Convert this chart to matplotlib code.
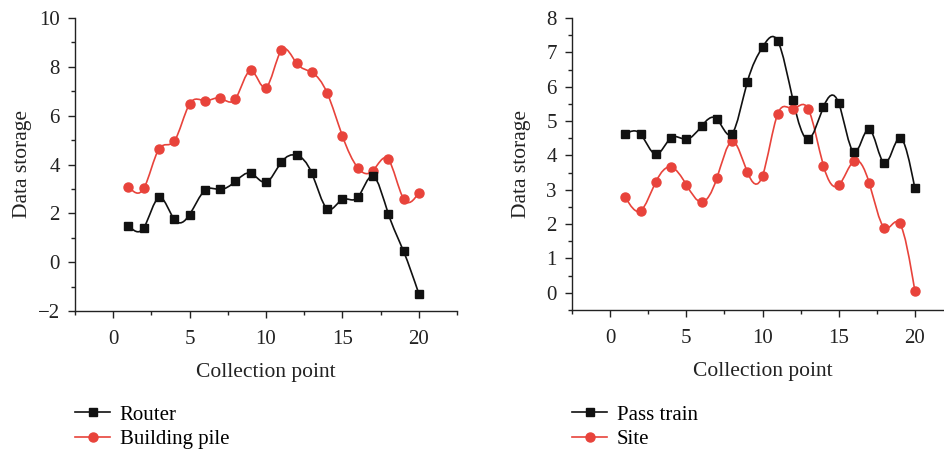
import numpy as np
import matplotlib.pyplot as plt
from matplotlib.path import Path
from matplotlib.patches import PathPatch
from matplotlib.lines import Line2D
from matplotlib.ticker import MultipleLocator

plt.rcParams['font.family'] = ['Liberation Serif', 'DejaVu Serif']

points = np.arange(1, 21)

router = [1.50, 1.41, 2.65, 1.75, 1.95, 2.94, 2.98, 3.31, 3.64, 3.27,
          4.09, 4.38, 3.64, 2.19, 2.57, 2.65, 3.53, 1.99, 0.45, -1.29]
building_pile = [3.09, 3.02, 4.64, 4.96, 6.48, 6.61, 6.72, 6.69, 7.85, 7.15,
                 8.67, 8.15, 7.77, 6.93, 5.17, 3.87, 3.75, 4.21, 2.60, 2.84]

pass_train = [4.62, 4.62, 4.03, 4.51, 4.47, 4.85, 5.06, 4.63, 6.13, 7.15,
              7.33, 5.61, 4.47, 5.41, 5.52, 4.09, 4.77, 3.77, 4.51, 3.04]
site = [2.78, 2.39, 3.23, 3.66, 3.15, 2.64, 3.33, 4.41, 3.52, 3.41,
        5.21, 5.36, 5.35, 3.70, 3.13, 3.84, 3.20, 1.89, 2.02, 0.05]

BLACK = '#111111'
RED = '#e8433b'
TEXT = '#222222'


def spline_path(x, y):
    # natural cubic spline through the points, drawn as cubic Bezier segments
    x = np.asarray(x, float)
    y = np.asarray(y, float)
    n = len(x)
    h = np.diff(x)
    A = np.zeros((n, n))
    r = np.zeros(n)
    A[0, 0] = A[-1, -1] = 1
    for i in range(1, n - 1):
        A[i, i - 1] = h[i - 1]
        A[i, i] = 2 * (h[i - 1] + h[i])
        A[i, i + 1] = h[i]
        r[i] = 6 * ((y[i + 1] - y[i]) / h[i] - (y[i] - y[i - 1]) / h[i - 1])
    M = np.linalg.solve(A, r)
    m = np.zeros(n)
    for i in range(n - 1):
        m[i] = (y[i + 1] - y[i]) / h[i] - h[i] * (2 * M[i] + M[i + 1]) / 6
    m[-1] = (y[-1] - y[-2]) / h[-1] + h[-1] * (M[-2] + 2 * M[-1]) / 6
    verts = [(x[0], y[0])]
    codes = [Path.MOVETO]
    for i in range(n - 1):
        d = h[i] / 3
        verts += [(x[i] + d, y[i] + m[i] * d),
                  (x[i + 1] - d, y[i + 1] - m[i + 1] * d),
                  (x[i + 1], y[i + 1])]
        codes += [Path.CURVE4] * 3
    return Path(verts, codes)


def draw(ax, y, color, marker, ms):
    ax.add_patch(PathPatch(spline_path(points, y), fill=False,
                           edgecolor=color, lw=1.2, zorder=2))
    ax.plot(points, y, ls='none', marker=marker, ms=ms, color=color, zorder=3)


def style(ax, ylim, major, minor, ypad):
    ax.set_xlim(-2.5, 22.5)
    ax.set_ylim(*ylim)
    ax.xaxis.set_major_locator(MultipleLocator(5))
    ax.xaxis.set_minor_locator(MultipleLocator(2.5))
    ax.yaxis.set_major_locator(MultipleLocator(major))
    ax.yaxis.set_minor_locator(MultipleLocator(minor))
    for s in ['top', 'right']:
        ax.spines[s].set_visible(False)
    for s in ['left', 'bottom']:
        ax.spines[s].set_linewidth(1.0)
        ax.spines[s].set_color(TEXT)
    ax.tick_params(which='both', direction='out', colors=TEXT, width=1.0,
                   labelsize=15, labelcolor=TEXT)
    ax.tick_params(which='major', length=5)
    ax.tick_params(which='minor', length=3)
    ax.tick_params(axis='x', pad=9)
    ax.tick_params(axis='y', pad=6)
    ax.set_xlabel('Collection point', fontsize=15.5, color=TEXT, labelpad=10)
    ax.set_ylabel('Data storage', fontsize=15.5, color=TEXT, labelpad=ypad)


fig = plt.figure(figsize=(9.45, 4.49), dpi=100)
ax1 = fig.add_axes([75 / 945, 1 - 311 / 449, 382 / 945, 293 / 449])
ax2 = fig.add_axes([572 / 945, 1 - 310 / 449, 381 / 945, 292 / 449])

draw(ax1, building_pile, RED, 'o', 6.5)
draw(ax1, router, BLACK, 's', 6)
style(ax1, (-2, 10), 2, 1, 4)
ax1.yaxis.set_major_formatter(plt.FuncFormatter(lambda v, p: f'{v:.0f}'.replace('-', '\u2212')))

draw(ax2, site, RED, 'o', 6.5)
draw(ax2, pass_train, BLACK, 's', 6)
style(ax2, (-0.5, 8), 1, 0.5, 11)

for ax, labels, x0 in [(ax1, ['Router', 'Building pile'], 75),
                       (ax2, ['Pass train', 'Site'], 572)]:
    handles = [Line2D([], [], color=BLACK, marker='s', ms=6, lw=1.2),
               Line2D([], [], color=RED, marker='o', ms=6.5, lw=1.2)]
    fig.legend(handles, labels, loc='upper left', frameon=False,
               bbox_to_anchor=(x0 / 945, 1 - 405 / 449),
               fontsize=15, handlelength=1.7, handletextpad=0.45,
               labelspacing=0.25, borderaxespad=0, borderpad=0)

fig.savefig('out.png', dpi=100)
